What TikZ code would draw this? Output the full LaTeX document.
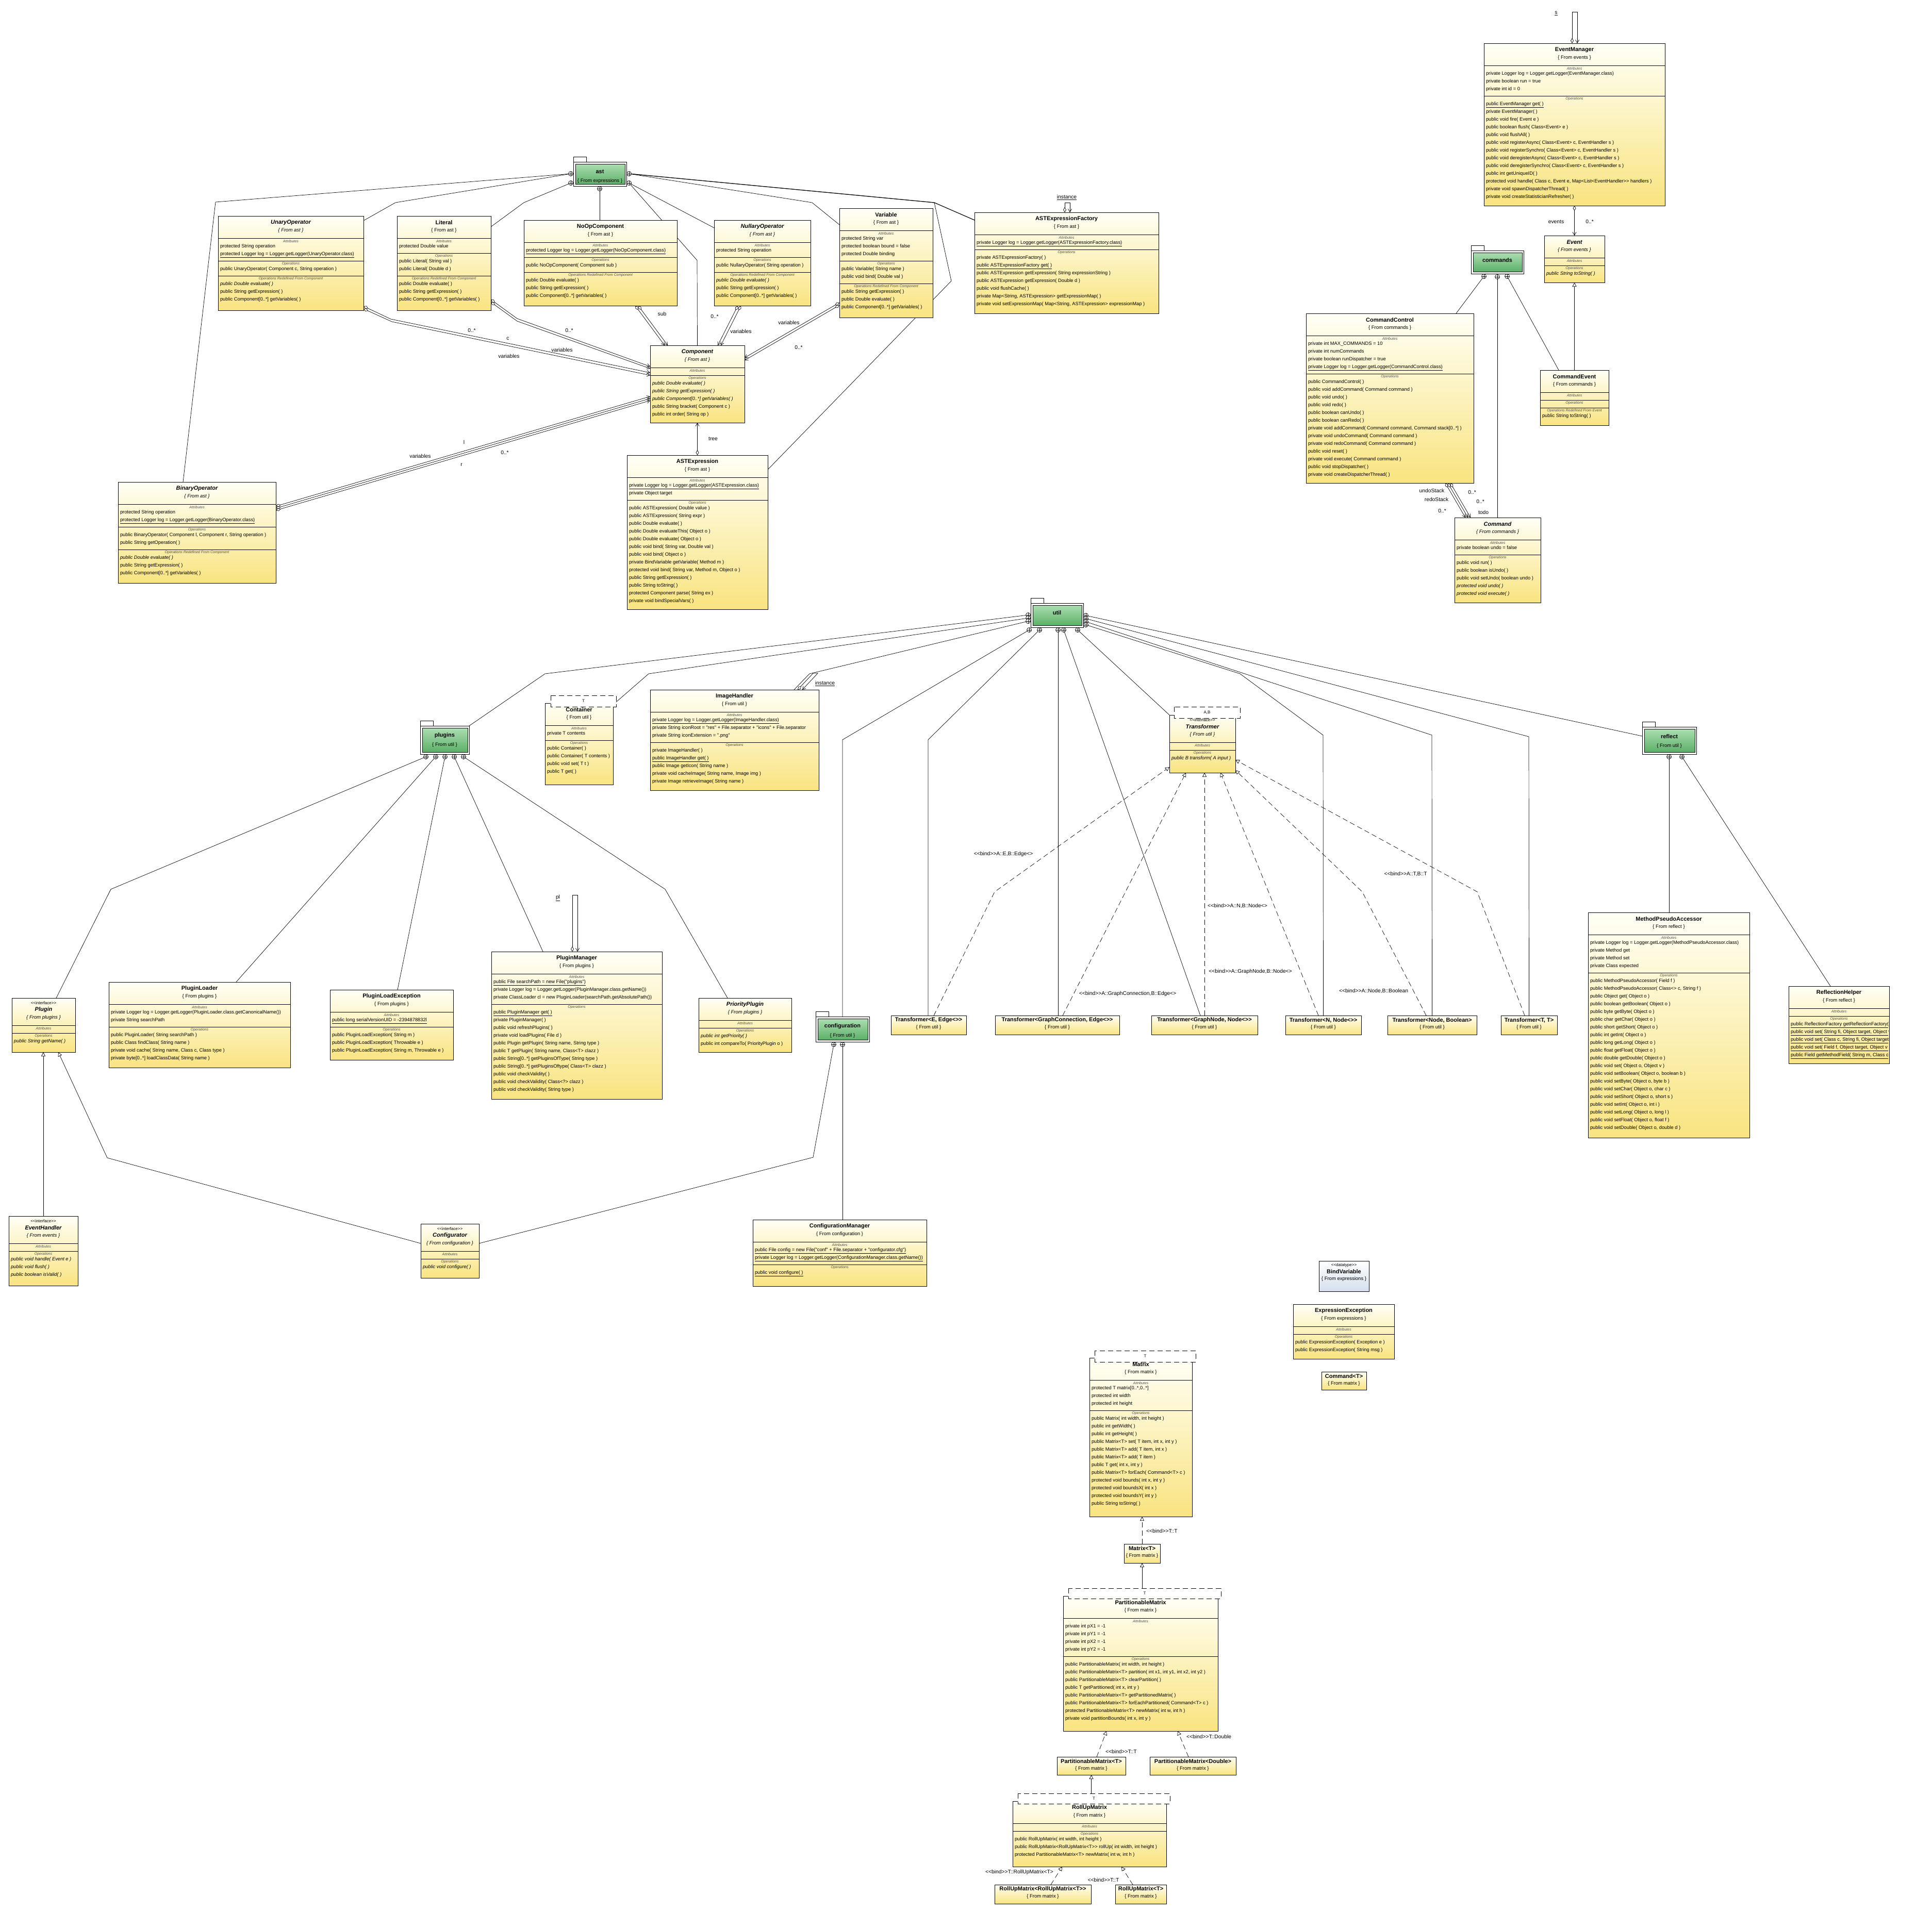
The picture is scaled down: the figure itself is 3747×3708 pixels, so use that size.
\documentclass[tikz,border=0pt]{standalone}
\usepackage{fontspec}
\newfontfamily\uml{Liberation Sans}
\usetikzlibrary{arrows.meta,calc}
\pgfdeclarelayer{bg}
\pgfdeclarelayer{lines}
\pgfsetlayers{bg,lines,main}
\definecolor{clsTop}{RGB}{255,255,246}
\definecolor{clsBot}{RGB}{249,228,128}
\definecolor{pkgTop}{RGB}{172,222,178}
\definecolor{pkgBot}{RGB}{92,176,104}
\definecolor{dtBot}{RGB}{212,223,238}
\definecolor{labgray}{RGB}{80,80,80}
\tikzset{
  every node/.style={inner sep=0pt, outer sep=0pt, font=\uml\fontsize{9.3}{11}\selectfont},
  clsframe/.style={rectangle, draw=black, line width=1pt, top color=clsTop, bottom color=clsBot},
  dtframe/.style={rectangle, draw=black, line width=1pt, top color=white, bottom color=dtBot},
  pkgframe/.style={rectangle, draw=black, line width=0.9pt, fill=white},
  ttl/.style={font=\uml\bfseries\fontsize{11}{13}\selectfont},
  frm/.style={font=\uml\fontsize{9.5}{11}\selectfont},
  stereo/.style={font=\uml\fontsize{8}{9}\selectfont},
  seclab/.style={font=\uml\itshape\fontsize{7}{8}\selectfont, text=labgray},
  member/.style={anchor=west, font=\uml\fontsize{9.3}{11}\selectfont, text height=7pt, text depth=2pt},
  lbl/.style={font=\uml\fontsize{10.3}{12}\selectfont},
  divl/.style={line width=0.8pt},
  conn/.style={line width=0.7pt},
  tmplbox/.style={draw=black, fill=white, line width=0.9pt, dash pattern=on 10pt off 6pt},
  pkgname/.style={font=\uml\bfseries\fontsize{11}{13}\selectfont},
  agg/.style={{Diamond[open,length=10pt,width=6pt]}-{Straight Barb[length=6pt,width=7pt]}},
  gen/.style={-{Triangle[open,length=8pt,width=8pt]}},
  real/.style={-{Triangle[open,length=8pt,width=8pt]}, dash pattern=on 10pt off 6pt},
}
\newcommand\Adv[1]{\pgfmathsetmacro\umltmp{\cy+#1}\xdef\cy{\umltmp}}
\newcommand\Cls[5]{%
  \pgfmathsetmacro\umlw{#4-#2}\pgfmathsetmacro\umlh{#5-#3}%
  \xdef\bx{#2}\xdef\bw{\umlw}\xdef\cy{#3}%
  \node[clsframe, anchor=north west, minimum width=\umlw pt, minimum height=\umlh pt] (#1) at (#2,#3) {};}
\newcommand\Hd[2]{%
  \node[ttl] at (\bx+\bw/2,\cy+13) {#1};
  \node[frm] at (\bx+\bw/2,\cy+28) {\{ From #2 \}};
  \Adv{43}\draw[divl] (\bx,\cy) -- ++(\bw,0);}
\newcommand\HdA[2]{%
  \node[ttl] at (\bx+\bw/2,\cy+13) {\itshape #1};
  \node[frm] at (\bx+\bw/2,\cy+28) {\itshape\{ From #2 \}};
  \Adv{43}\draw[divl] (\bx,\cy) -- ++(\bw,0);}
\newcommand\HdI[2]{%
  \node[stereo] at (\bx+\bw/2,\cy+10) {<<interface>>};
  \node[ttl] at (\bx+\bw/2,\cy+23) {\itshape #1};
  \node[frm] at (\bx+\bw/2,\cy+38) {\itshape\{ From #2 \}};
  \Adv{53}\draw[divl] (\bx,\cy) -- ++(\bw,0);}
\newcommand\Sec[1]{\node[seclab] at (\bx+\bw/2,\cy+6) {#1};\Adv{1}}
\newcommand\Row[1]{\Adv{15}\node[member] at (\bx+4,\cy) {#1};}
\newcommand\Div{\Adv{13}\draw[divl] (\bx,\cy) -- ++(\bw,0);}
\newcommand\EDiv{\Adv{14}\draw[divl] (\bx,\cy) -- ++(\bw,0);}
\newcommand\Tmpl[5]{\draw[tmplbox] (#1,#2) rectangle (#3,#4);
  \node[stereo] at ({(#1+#3)/2},{(#2+#4)/2}) {#5};}
\newcommand\Simple[7]{%
  \pgfmathsetmacro\umlw{#4-#2}\pgfmathsetmacro\umlh{#5-#3}%
  \node[clsframe, anchor=north west, minimum width=\umlw pt, minimum height=\umlh pt] (#1) at (#2,#3) {};
  \node[ttl] at ({(#2+#4)/2},#3+9) {#6};
  \node[frm] at ({(#2+#4)/2},#3+23) {\{ From #7 \}};}
\newcommand\Pkg[7]{%
  \pgfmathsetmacro\umlw{#4-#2}\pgfmathsetmacro\umlh{#5-#3}%
  \draw[line width=0.9pt, fill=white] (#2,#3-10) rectangle (#2+25,#3);
  \node[pkgframe, anchor=north west, minimum width=\umlw pt, minimum height=\umlh pt] (#1) at (#2,#3) {};
  \shadedraw[top color=pkgTop, bottom color=pkgBot, line width=0.8pt] (#2+4,#3+4) rectangle (#4-3,#5-4);
  \node[pkgname] at ({(#2+#4)/2},#3+19) {#6};
  \node[frm] at ({(#2+#4)/2},#3+37) {#7};}
\newcommand\DrawCont[1]{\draw[line width=0.7pt, fill=white] (#1) circle[radius=4.5pt];
  \draw[line width=0.7pt] ($(#1)+(-4.5,0)$) -- ($(#1)+(4.5,0)$) ($(#1)+(0,-4.5)$) -- ($(#1)+(0,4.5)$);}
\begin{document}
\begin{tikzpicture}[x=1pt,y=-1pt]
\useasboundingbox (0,0) rectangle (3747,3708);
\begin{pgfonlayer}{bg}
\fill[white] (0,0) rectangle (3747,3708);
\end{pgfonlayer}

% ===================== packages =====================
\Pkg{pkgAst}{1112}{314}{1215}{361}{ast}{\{ From expressions \}}
\Pkg{pkgCommands}{2853}{486}{2955}{531}{commands}{}
\Pkg{pkgUtil}{1999}{1170}{2101}{1217}{util}{}
\Pkg{pkgPlugins}{815}{1408}{910}{1463}{plugins}{\{ From util \}}
\Pkg{pkgConfig}{1582}{1972}{1686}{2021}{configuration}{\{ From util \}}
\Pkg{pkgReflect}{3185}{1410}{3290}{1463}{reflect}{\{ From util \}}

% ===================== ast =====================
\Cls{unary}{423}{419}{705}{602}
\HdA{UnaryOperator}{ast}
\Sec{Attributes}
\Row{protected String operation}
\Row{\underline{protected Logger log = Logger.getLogger(UnaryOperator.class)}}
\Div
\Sec{Operations}
\Row{public UnaryOperator( Component c, String operation )}
\Div
\Sec{Operations Redefined From Component}
\Row{\itshape public Double evaluate( )}
\Row{public String getExpression( )}
\Row{public Component[0..*] getVariables( )}

\Cls{literal}{770}{419}{952}{602}
\Hd{Literal}{ast}
\Sec{Attributes}
\Row{protected Double value}
\Div
\Sec{Operations}
\Row{public Literal( String val )}
\Row{public Literal( Double d )}
\Div
\Sec{Operations Redefined From Component}
\Row{public Double evaluate( )}
\Row{public String getExpression( )}
\Row{public Component[0..*] getVariables( )}

\Cls{noop}{1016}{427}{1313}{593}
\Hd{NoOpComponent}{ast}
\Sec{Attributes}
\Row{\underline{protected Logger log = Logger.getLogger(NoOpComponent.class)}}
\Div
\Sec{Operations}
\Row{public NoOpComponent( Component sub )}
\Div
\Sec{Operations Redefined From Component}
\Row{public Double evaluate( )}
\Row{public String getExpression( )}
\Row{public Component[0..*] getVariables( )}

\Cls{nullary}{1385}{427}{1572}{593}
\HdA{NullaryOperator}{ast}
\Sec{Attributes}
\Row{protected String operation}
\Div
\Sec{Operations}
\Row{public NullaryOperator( String operation )}
\Div
\Sec{Operations Redefined From Component}
\Row{\itshape public Double evaluate( )}
\Row{public String getExpression( )}
\Row{public Component[0..*] getVariables( )}

\Cls{variable}{1628}{404}{1809}{616}
\Hd{Variable}{ast}
\Sec{Attributes}
\Row{protected String var}
\Row{protected boolean bound = false}
\Row{protected Double binding}
\Div
\Sec{Operations}
\Row{public Variable( String name )}
\Row{public void bind( Double val )}
\Div
\Sec{Operations Redefined From Component}
\Row{public String getExpression( )}
\Row{public Double evaluate( )}
\Row{public Component[0..*] getVariables( )}

\Cls{factory}{1890}{412}{2247}{608}
\Hd{ASTExpressionFactory}{ast}
\Sec{Attributes}
\Row{\underline{private Logger log = Logger.getLogger(ASTExpressionFactory.class)}}
\Div
\Sec{Operations}
\Row{private ASTExpressionFactory( )}
\Row{\underline{public ASTExpressionFactory get( )}}
\Row{public ASTExpression getExpression( String expressionString )}
\Row{public ASTExpression getExpression( Double d )}
\Row{public void flushCache( )}
\Row{private Map<String, ASTExpression> getExpressionMap( )}
\Row{private void setExpressionMap( Map<String, ASTExpression> expressionMap )}

\Cls{component}{1261}{670}{1444}{820}
\HdA{Component}{ast}
\Sec{Attributes}
\EDiv
\Sec{Operations}
\Row{\itshape public Double evaluate( )}
\Row{\itshape public String getExpression( )}
\Row{\itshape public Component[0..*] getVariables( )}
\Row{public String bracket( Component c )}
\Row{public int order( String op )}

\Cls{astexpr}{1216}{883}{1489}{1182}
\Hd{ASTExpression}{ast}
\Sec{Attributes}
\Row{\underline{private Logger log = Logger.getLogger(ASTExpression.class)}}
\Row{private Object target}
\Div
\Sec{Operations}
\Row{public ASTExpression( Double value )}
\Row{public ASTExpression( String expr )}
\Row{public Double evaluate( )}
\Row{public Double evaluateThis( Object o )}
\Row{public Double evaluate( Object o )}
\Row{public void bind( String var, Double val )}
\Row{public void bind( Object o )}
\Row{private BindVariable getVariable( Method m )}
\Row{protected void bind( String var, Method m, Object o )}
\Row{public String getExpression( )}
\Row{public String toString( )}
\Row{protected Component parse( String ex )}
\Row{private void bindSpecialVars( )}

\Cls{binary}{229}{935}{535}{1131}
\HdA{BinaryOperator}{ast}
\Sec{Attributes}
\Row{protected String operation}
\Row{\underline{protected Logger log = Logger.getLogger(BinaryOperator.class)}}
\Div
\Sec{Operations}
\Row{public BinaryOperator( Component l, Component r, String operation )}
\Row{public String getOperation( )}
\Div
\Sec{Operations Redefined From Component}
\Row{\itshape public Double evaluate( )}
\Row{public String getExpression( )}
\Row{public Component[0..*] getVariables( )}

% ===================== events / commands =====================
\Cls{evtmgr}{2878}{84}{3229}{399}
\Hd{EventManager}{events}
\Sec{Attributes}
\Row{private Logger log = Logger.getLogger(EventManager.class)}
\Row{private boolean run = true}
\Row{private int id = 0}
\Div
\Sec{Operations}
\Row{\underline{public EventManager get( )}}
\Row{private EventManager( )}
\Row{public void fire( Event e )}
\Row{public boolean flush( Class<Event> e )}
\Row{public void flushAll( )}
\Row{public void registerAsync( Class<Event> c, EventHandler s )}
\Row{public void registerSynchro( Class<Event> c, EventHandler s )}
\Row{public void deregisterAsync( Class<Event> c, EventHandler s )}
\Row{public void deregisterSynchro( Class<Event> c, EventHandler s )}
\Row{public int getUniqueID( )}
\Row{protected void handle( Class c, Event e, Map<List<EventHandler>> handlers )}
\Row{private void spawnDispatcherThread( )}
\Row{private void createStatisticianRefresher( )}

\Cls{event}{2995}{457}{3112}{548}
\HdA{Event}{events}
\Sec{Attributes}
\EDiv
\Sec{Operations}
\Row{\itshape public String toString( )}

\Cls{cmdctl}{2533}{608}{2858}{937}
\Hd{CommandControl}{commands}
\Sec{Attributes}
\Row{private int MAX\_COMMANDS = 10}
\Row{private int numCommands}
\Row{private boolean runDispatcher = true}
\Row{\underline{private Logger log = Logger.getLogger(CommandControl.class)}}
\Div
\Sec{Operations}
\Row{public CommandControl( )}
\Row{public void addCommand( Command command )}
\Row{public void undo( )}
\Row{public void redo( )}
\Row{public boolean canUndo( )}
\Row{public boolean canRedo( )}
\Row{private void addCommand( Command command, Command stack[0..*] )}
\Row{private void undoCommand( Command command )}
\Row{private void redoCommand( Command command )}
\Row{public void reset( )}
\Row{private void execute( Command command )}
\Row{public void stopDispatcher( )}
\Row{private void createDispatcherThread( )}

\Cls{cmdevt}{2987}{718}{3120}{825}
\Hd{CommandEvent}{commands}
\Sec{Attributes}
\EDiv
\Sec{Operations}
\EDiv
\Sec{Operations Redefined From Event}
\Row{public String toString( )}

\Cls{command}{2821}{1004}{2988}{1169}
\HdA{Command}{commands}
\Sec{Attributes}
\Row{private boolean undo = false}
\Div
\Sec{Operations}
\Row{public void run( )}
\Row{public boolean isUndo( )}
\Row{public void setUndo( boolean undo )}
\Row{\itshape protected void undo( )}
\Row{\itshape protected void execute( )}

% ===================== util =====================
\Cls{container}{1057}{1364}{1189}{1522}
\Tmpl{1068}{1349}{1195}{1371}{T}
\Hd{Container}{util}
\Sec{Attributes}
\Row{private T contents}
\Div
\Sec{Operations}
\Row{public Container( )}
\Row{public Container( T contents )}
\Row{public void set( T t )}
\Row{public T get( )}

\Cls{imghandler}{1261}{1338}{1588}{1533}
\Hd{ImageHandler}{util}
\Sec{Attributes}
\Row{\underline{private Logger log = Logger.getLogger(ImageHandler.class)}}
\Row{private String iconRoot = "res" + File.separator + "icons" + File.separator}
\Row{private String iconExtension = ".png"}
\Div
\Sec{Operations}
\Row{private ImageHandler( )}
\Row{\underline{public ImageHandler get( )}}
\Row{public Image getIcon( String name )}
\Row{private void cacheImage( String name, Image img )}
\Row{private Image retrieveImage( String name )}

\Cls{transformer}{2268}{1387}{2396}{1499}
\Tmpl{2277}{1371}{2405}{1393}{A,B}
\HdI{Transformer}{util}
\Sec{Attributes}
\EDiv
\Sec{Operations}
\Row{\itshape public B transform( A input )}

\Simple{tone}{1728}{1970}{1874}{2007}{Transformer<E, Edge<>>}{util}
\Simple{ttwo}{1930}{1970}{2171}{2007}{Transformer<GraphConnection, Edge<>>}{util}
\Simple{tthree}{2233}{1970}{2439}{2007}{Transformer<GraphNode, Node<>>}{util}
\Simple{tfour}{2493}{1970}{2640}{2007}{Transformer<N, Node<>>}{util}
\Simple{tfive}{2691}{1970}{2864}{2007}{Transformer<Node, Boolean>}{util}
\Simple{tsix}{2911}{1970}{3020}{2007}{Transformer<T, T>}{util}

% ===================== reflect =====================
\Cls{mpa}{3080}{1770}{3393}{2207}
\Hd{MethodPseudoAccessor}{reflect}
\Sec{Attributes}
\Row{private Logger log = Logger.getLogger(MethodPseudoAccessor.class)}
\Row{private Method get}
\Row{private Method set}
\Row{private Class expected}
\Div
\Sec{Operations}
\Row{public MethodPseudoAccessor( Field f )}
\Row{public MethodPseudoAccessor( Class<> c, String f )}
\Row{public Object get( Object o )}
\Row{public boolean getBoolean( Object o )}
\Row{public byte getByte( Object o )}
\Row{public char getChar( Object o )}
\Row{public short getShort( Object o )}
\Row{public int getInt( Object o )}
\Row{public long getLong( Object o )}
\Row{public float getFloat( Object o )}
\Row{public double getDouble( Object o )}
\Row{public void set( Object o, Object v )}
\Row{public void setBoolean( Object o, boolean b )}
\Row{public void setByte( Object o, byte b )}
\Row{public void setChar( Object o, char c )}
\Row{public void setShort( Object o, short s )}
\Row{public void setInt( Object o, int i )}
\Row{public void setLong( Object o, long l )}
\Row{public void setFloat( Object o, float f )}
\Row{public void setDouble( Object o, double d )}

\Cls{reflhelper}{3469}{1913}{3664}{2063}
\Hd{ReflectionHelper}{reflect}
\Sec{Attributes}
\EDiv
\Sec{Operations}
\begin{scope}
\clip (3469,1913) rectangle (3662,2063);
\Row{\underline{public ReflectionFactory getReflectionFactory( )}}
\Row{\underline{public void set( String fi, Object target, Object v )}}
\Row{\underline{public void set( Class c, String fi, Object target, Object v )}}
\Row{\underline{public void set( Field f, Object target, Object v )}}
\Row{\underline{public Field getMethodField( String m, Class c )}}
\end{scope}

% ===================== plugins =====================
\Cls{plugin}{23}{1936}{146}{2041}
\HdI{Plugin}{plugins}
\Sec{Attributes}
\EDiv
\Sec{Operations}
\Row{\itshape public String getName( )}

\Cls{ploader}{211}{1905}{563}{2071}
\Hd{PluginLoader}{plugins}
\Sec{Attributes}
\Row{private Logger log = Logger.getLogger(PluginLoader.class.getCanonicalName())}
\Row{private String searchPath}
\Div
\Sec{Operations}
\Row{public PluginLoader( String searchPath )}
\Row{public Class findClass( String name )}
\Row{private void cache( String name, Class c, Class type )}
\Row{private byte[0..*] loadClassData( String name )}

\Cls{ploadex}{640}{1920}{879}{2056}
\Hd{PluginLoadException}{plugins}
\Sec{Attributes}
\Row{\underline{public long serialVersionUID = -2394878832l}}
\Div
\Sec{Operations}
\Row{public PluginLoadException( String m )}
\Row{public PluginLoadException( Throwable e )}
\Row{public PluginLoadException( String m, Throwable e )}

\Cls{pmanager}{953}{1846}{1284}{2132}
\Hd{PluginManager}{plugins}
\Sec{Attributes}
\Row{\underline{public File searchPath = new File("plugins")}}
\Row{private Logger log = Logger.getLogger(PluginManager.class.getName())}
\Row{private ClassLoader cl = new PluginLoader(searchPath.getAbsolutePath())}
\Div
\Sec{Operations}
\Row{\underline{public PluginManager get( )}}
\Row{private PluginManager( )}
\Row{public void refreshPlugins( )}
\Row{private void loadPlugins( File d )}
\Row{public Plugin getPlugin( String name, String type )}
\Row{public T getPlugin( String name, Class<T> clazz )}
\Row{public String[0..*] getPluginsOfType( String type )}
\Row{public String[0..*] getPluginsOftype( Class<T> clazz )}
\Row{public void checkValidity( )}
\Row{public void checkValidity( Class<?> clazz )}
\Row{public void checkValidity( String type )}

\Cls{prioplugin}{1355}{1936}{1535}{2041}
\HdA{PriorityPlugin}{plugins}
\Sec{Attributes}
\EDiv
\Sec{Operations}
\Row{\itshape public int getPriority( )}
\Row{public int compareTo( PriorityPlugin o )}

\Cls{evthandler}{17}{2359}{151}{2494}
\HdI{EventHandler}{events}
\Sec{Attributes}
\EDiv
\Sec{Operations}
\Row{\itshape public void handle( Event e )}
\Row{\itshape public void flush( )}
\Row{\itshape public boolean isValid( )}

\Cls{configurator}{816}{2374}{929}{2479}
\HdI{Configurator}{configuration}
\Sec{Attributes}
\EDiv
\Sec{Operations}
\Row{\itshape public void configure( )}

\Cls{cfgmgr}{1460}{2366}{1797}{2495}
\Hd{ConfigurationManager}{configuration}
\Sec{Attributes}
\Row{\underline{public File config = new File("conf" + File.separator + "configurator.cfg")}}
\Row{\underline{private Logger log = Logger.getLogger(ConfigurationManager.class.getName())}}
\Div
\Sec{Operations}
\Row{\underline{public void configure( )}}

% ===================== expressions / matrix =====================
\node[dtframe, anchor=north west, minimum width=97pt, minimum height=59pt] (bindvar) at (2558,2446) {};
\node[stereo] at (2606.5,2454) {<<datatype>>};
\node[ttl] at (2606.5,2467) {BindVariable};
\node[frm] at (2606.5,2481) {\{ From expressions \}};

\Cls{exprex}{2508}{2530}{2704}{2636}
\Hd{ExpressionException}{expressions}
\Sec{Attributes}
\EDiv
\Sec{Operations}
\Row{public ExpressionException( Exception e )}
\Row{public ExpressionException( String msg )}

\Simple{cmdT}{2563}{2661}{2650}{2696}{Command<T>}{matrix}

\Cls{matrix}{2113}{2634}{2312}{2942}
\Tmpl{2123}{2620}{2319}{2642}{T}
\Hd{Matrix}{matrix}
\Sec{Attributes}
\Row{protected T matrix[0..*,0..*]}
\Row{protected int width}
\Row{protected int height}
\Div
\Sec{Operations}
\Row{public Matrix( int width, int height )}
\Row{public int getWidth( )}
\Row{public int getHeight( )}
\Row{public Matrix<T> set( T item, int x, int y )}
\Row{public Matrix<T> add( T item, int x )}
\Row{public Matrix<T> add( T item )}
\Row{public T get( int x, int y )}
\Row{public Matrix<T> forEach( Command<T> c )}
\Row{protected void bounds( int x, int y )}
\Row{protected void boundsX( int x )}
\Row{protected void boundsY( int y )}
\Row{public String toString( )}

\Simple{matrixT}{2180}{2995}{2250}{3032}{Matrix<T>}{matrix}

\Cls{pmatrix}{2062}{3096}{2362}{3358}
\Tmpl{2072}{3081}{2368}{3101}{T}
\Hd{PartitionableMatrix}{matrix}
\Sec{Attributes}
\Row{private int pX1 = -1}
\Row{private int pY1 = -1}
\Row{private int pX2 = -1}
\Row{private int pY2 = -1}
\Div
\Sec{Operations}
\Row{public PartitionableMatrix( int width, int height )}
\Row{public PartitionableMatrix<T> partition( int x1, int y1, int x2, int y2 )}
\Row{public PartitionableMatrix<T> clearPartition( )}
\Row{public T getPartitioned( int x, int y )}
\Row{public PartitionableMatrix<T> getPartitionedMatrix( )}
\Row{public PartitionableMatrix<T> forEachPartitioned( Command<T> c )}
\Row{protected PartitionableMatrix<T> newMatrix( int w, int h )}
\Row{private void partitionBounds( int x, int y )}

\Simple{pmT}{2050}{3408}{2183}{3443}{PartitionableMatrix<T>}{matrix}
\Simple{pmD}{2230}{3408}{2397}{3443}{PartitionableMatrix<Double>}{matrix}

\Cls{rollup}{1964}{3494}{2262}{3621}
\Tmpl{1974}{3479}{2269}{3499}{T}
\Hd{RollUpMatrix}{matrix}
\Sec{Attributes}
\EDiv
\Sec{Operations}
\Row{public RollUpMatrix( int width, int height )}
\Row{public RollUpMatrix<RollUpMatrix<T>> rollUp( int width, int height )}
\Row{protected PartitionableMatrix<T> newMatrix( int w, int h )}

\Simple{ruRU}{1929}{3656}{2116}{3693}{RollUpMatrix<RollUpMatrix<T>>}{matrix}
\Simple{ruT}{2163}{3656}{2262}{3693}{RollUpMatrix<T>}{matrix}

% ===================== containment points =====================
\coordinate (astLa) at (1107,337);
\coordinate (astLb) at (1107,355);
\coordinate (astB) at (1163,366);
\coordinate (astRa) at (1220,337);
\coordinate (astRb) at (1220,355);
\coordinate (cmdA) at (2878,536);
\coordinate (cmdB) at (2904,537);
\coordinate (cmdC) at (2923,536);
\coordinate (uLa) at (1994,1193);
\coordinate (uLb) at (1994,1199);
\coordinate (uLc) at (1994,1205);
\coordinate (uRa) at (2106,1194);
\coordinate (uRb) at (2106,1200);
\coordinate (uRc) at (2106,1206);
\coordinate (uRd) at (2106,1212);
\coordinate (uBa) at (1996,1222);
\coordinate (uBb) at (2016,1222);
\coordinate (uBc) at (2052,1222);
\coordinate (uBd) at (2063,1222);
\coordinate (uBe) at (2090,1222);
\coordinate (plA) at (826,1468);
\coordinate (plB) at (845,1468);
\coordinate (plC) at (863,1468);
\coordinate (plD) at (881,1468);
\coordinate (plE) at (899,1468);
\coordinate (cfgA) at (1617,2026);
\coordinate (cfgB) at (1634,2026);
\coordinate (rfA) at (3237,1468);
\coordinate (rfB) at (3262,1468);

% ===================== connectors =====================
\begin{pgfonlayer}{lines}
% ast containment
\draw[conn] (astLa) -- (418,392) -- (binary.north -| 355,0);
\draw[conn] (astLa) -- (767,393) -- (unary.east |- 0,428);
\draw[conn] (astLb) -- (1016,393) -- (literal.east |- 0,440);
\draw[conn] (astB) -- (noop.north -| astB);
\draw[conn] (astRb) -- (nullary.west |- 0,442);
\draw[conn] (astRb) -- (1352,505) -- (component.north);
\draw[conn] (astRa) -- (1575,393) -- (variable.west |- 0,436);
\draw[conn, line width=1.2pt] (astRa) -- (1812,393) -- (factory.west |- 0,427);
\draw[conn] (astRa) -- (1812,393) -- (1845,545) -- (astexpr.east |- 0,911);
% ast associations
\draw[conn,agg] (unary.east |- 0,594) -- (758,619) -- (component.west |- 0,723);
\draw[conn,agg] (unary.east |- 0,599) -- (760,624) -- (component.west |- 0,728);
\draw[conn,agg] (literal.east |- 0,581) -- (1003,618) -- (component.west |- 0,711);
\draw[conn,agg] (literal.east |- 0,586) -- (1003,623) -- (component.west |- 0,715);
\draw[conn,agg] (noop.south -| 1232,0) -- (component.north -| 1289,0);
\draw[conn,agg] (noop.south -| 1238,0) -- (component.north -| 1295,0);
\draw[conn,agg] (nullary.south -| 1431,0) -- (component.north -| 1392,0);
\draw[conn,agg] (nullary.south -| 1437,0) -- (component.north -| 1398,0);
\draw[conn,agg] (variable.west |- 0,587) -- (component.east |- 0,694);
\draw[conn,agg] (variable.west |- 0,592) -- (component.east |- 0,699);
\draw[conn,agg] (binary.east |- 0,982) -- (component.west |- 0,769);
\draw[conn,agg] (binary.east |- 0,986) -- (component.west |- 0,773);
\draw[conn,agg] (binary.east |- 0,990) -- (component.west |- 0,777);
\draw[conn,agg] (astexpr.north) -- (component.south);
\draw[conn,agg] (factory.north -| 2065,0) -- ++(0,-19) -- ++(10,0) -- ++(0,19);
% events / commands
\draw[conn,agg] (evtmgr.north -| 3049,0) -- ++(0,-61) -- ++(10,0) -- ++(0,61);
\draw[conn,agg] (evtmgr.south) -- (event.north);
\draw[conn,gen] (cmdevt.north) -- (event.south);
\draw[conn] (cmdA) -- (cmdctl.north -| 2824,0);
\draw[conn] (cmdB) -- (command.north -| cmdB);
\draw[conn] (cmdC) -- (cmdevt.north -| 3023,0);
\draw[conn,agg] (cmdctl.south -| 2803,0) -- (command.north -| 2842,0);
\draw[conn,agg] (cmdctl.south -| 2808,0) -- (command.north -| 2847,0);
\draw[conn,agg] (cmdctl.south -| 2813,0) -- (command.north -| 2852,0);
% util containment
\draw[conn] (uLa) -- (1057,1307) -- (pkgPlugins.north east);
\draw[conn] (uLb) -- (1258,1307) -- (container.east |- 0,1367);
\draw[conn] (uLc) -- (1570,1307) -- (imghandler.north -| 1540,0);
\draw[conn,agg] (imghandler.north -| 1547,0) -- (1577,1306) -- (1586,1306) -- (imghandler.north -| 1556,0);
\draw[conn] (uBa) -- (1634,1435) -- (pkgConfig.north);
\draw[conn] (uBb) -- (1800,1435) -- (tone.north -| 1800,0);
\draw[conn] (uBc) -- (ttwo.north -| uBc);
\draw[conn] (uBd) -- (tthree.north -| 2328,0);
\draw[conn] (uBe) -- (transformer.north west);
\draw[conn] (uRa) -- (pkgReflect.west |- 0,1428);
\draw[conn] (uRb) -- (2965,1429) -- (tsix.north);
\draw[conn] (uRc) -- (2777,1426) -- (tfive.north);
\draw[conn] (uRd) -- (2405,1307) -- (2566,1426) -- (tfour.north);
% transformer bindings
\draw[conn,real] (tone.north -| 1811,0) -- (1929,1730) -- (transformer.west |- 0,1488);
\draw[conn,real] (ttwo.north -| 2061,0) -- (transformer.south -| 2300,0);
\draw[conn,real] (tthree.north) -- (transformer.south -| tthree.north);
\draw[conn,real] (tfour.north -| 2557,0) -- (transformer.south -| 2367,0);
\draw[conn,real] (tfive.north -| 2766,0) -- (2642,1730) -- (transformer.east |- 0,1494);
\draw[conn,real] (tsix.north -| 2957,0) -- (2865,1730) -- (transformer.east |- 0,1474);
% reflect
\draw[conn] (rfA) -- (mpa.north -| rfA);
\draw[conn] (rfB) -- (reflhelper.north -| 3550,0);
% plugins
\draw[conn] (plA) -- (215,1725) -- (plugin.north -| 109,0);
\draw[conn] (plB) -- (ploader.north -| 458,0);
\draw[conn] (plC) -- (ploadex.north -| 771,0);
\draw[conn] (plD) -- (pmanager.north -| 1053,0);
\draw[conn] (plE) -- (1290,1725) -- (prioplugin.north -| 1411,0);
\draw[conn,agg] (pmanager.north -| 1110,0) -- ++(0,-110) -- ++(10,0) -- ++(0,110);
\draw[conn,gen] (evthandler.north -| 84,0) -- (plugin.south -| 84,0);
\draw[conn,gen] (configurator.west |- 0,2412) -- (208,2246) -- (plugin.south -| 113,0);
\draw[conn] (cfgA) -- (1577,2245) -- (configurator.east |- 0,2412);
\draw[conn] (cfgB) -- (cfgmgr.north -| cfgB);
% matrix
\draw[conn,real] (matrixT.north) -- (matrix.south -| matrixT.north);
\draw[conn,gen] (pmatrix.north -| matrixT.south) -- (matrixT.south);
\draw[conn,real] (pmT.north -| 2127,0) -- (pmatrix.south -| 2146,0);
\draw[conn,real] (pmD.north -| 2305,0) -- (pmatrix.south -| 2284,0);
\draw[conn,gen] (rollup.north -| pmT.south) -- (pmT.south);
\draw[conn,real] (ruRU.north -| 2038,0) -- (rollup.south -| 2060,0);
\draw[conn,real] (ruT.north -| 2197,0) -- (rollup.south -| 2175,0);
\end{pgfonlayer}

% containment symbols
\foreach \c in {astLa,astLb,astB,astRa,astRb,cmdA,cmdB,cmdC,uLa,uLb,uLc,uRa,uRb,uRc,uRd,uBa,uBb,uBc,uBd,uBe,plA,plB,plC,plD,plE,cfgA,cfgB,rfA,rfB}{\DrawCont{\c}}

% ===================== labels =====================
\node[lbl] at (915,641) {0..*};
\node[lbl] at (985,657) {c};
\node[lbl] at (987,691) {variables};
\node[lbl] at (1104,641) {0..*};
\node[lbl] at (1090,679) {variables};
\node[lbl] at (1284,609) {sub};
\node[lbl] at (1386,614) {0..*};
\node[lbl] at (1437,643) {variables};
\node[lbl] at (1530,626) {variables};
\node[lbl] at (1549,674) {0..*};
\node[lbl] at (900,858) {l};
\node[lbl] at (979,878) {0..*};
\node[lbl] at (815,885) {variables};
\node[lbl] at (895,902) {r};
\node[lbl] at (1383,851) {tree};
\node[lbl] at (2069,383) {\underline{instance}};
\node[lbl] at (3018,26) {\underline{s}};
\node[lbl] at (3018,430) {events};
\node[lbl] at (3083,430) {0..*};
\node[lbl] at (2777,952) {undoStack};
\node[lbl] at (2786,969) {redoStack};
\node[lbl] at (2797,991) {0..*};
\node[lbl] at (2855,955) {0..*};
\node[lbl] at (2871,973) {0..*};
\node[lbl] at (2877,994) {todo};
\node[lbl] at (1600,1326) {\underline{instance}};
\node[lbl] at (1082,1742) {\underline{pl}};
\node[lbl] at (1946,1657) {<<bind>>A::E,B::Edge<>};
\node[lbl] at (2187,1928) {<<bind>>A::GraphConnection,B::Edge<>};
\node[lbl] at (2400,1757) {<<bind>>A::N,B::Node<>};
\node[lbl] at (2425,1885) {<<bind>>A::GraphNode,B::Node<>};
\node[lbl] at (2664,1922) {<<bind>>A::Node,B::Boolean};
\node[lbl] at (2726,1695) {<<bind>>A::T,B::T};
\node[lbl, anchor=west] at (2223,2970) {<<bind>>T::T};
\node[lbl, anchor=west] at (2144,3398) {<<bind>>T::T};
\node[lbl, anchor=west] at (2301,3369) {<<bind>>T::Double};
\node[lbl] at (1977,3632) {<<bind>>T::RollUpMatrix<T>};
\node[lbl] at (2140,3647) {<<bind>>T::T};
\end{tikzpicture}
\end{document}
